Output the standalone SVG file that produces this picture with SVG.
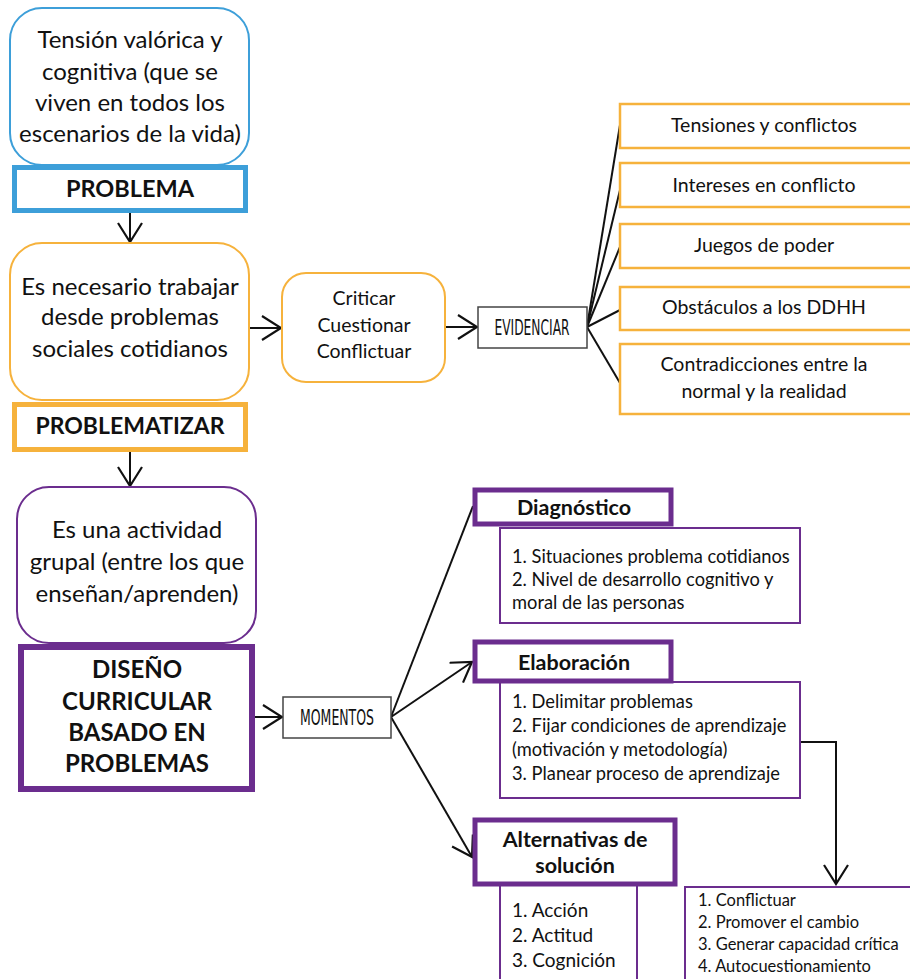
<svg xmlns="http://www.w3.org/2000/svg" width="910" height="979" viewBox="0 0 910 979">
  <style>
    .txt { font-family: "Lato", "Noto Sans", sans-serif; fill: #111; }
    .reg { font-size: 24px; text-anchor: middle; }
    .mid { font-size: 19.5px; text-anchor: middle; }
    .lst { font-size: 18.3px; }
    .alt { font-size: 19px; }
    .sml { font-size: 16.5px; }
    .bold { font-weight: 700; text-anchor: middle; }
    .hdr { font-size: 21.5px; }
    .cond { font-family: "DejaVu Sans Condensed", "DejaVu Sans", sans-serif; font-stretch: condensed; font-size: 20.5px; text-anchor: middle; fill: #111; }
    .blue { stroke: #3d9fd9; fill: #fff; }
    .orange { stroke: #f6b23c; fill: #fff; }
    .purple { stroke: #6b2d8e; fill: #fff; }
    .gray { stroke: #444; fill: #fff; stroke-width: 1.5; }
    .conn line, .conn path { stroke: #111; stroke-width: 2; fill: none; }
  </style>
  <defs>
    <marker id="arrow" viewBox="0 0 22 26" refX="20" refY="13" markerWidth="22" markerHeight="26" markerUnits="userSpaceOnUse" orient="auto">
      <path d="M1,1 L20,13 L1,25" fill="none" stroke="#111" stroke-width="2.2"/>
    </marker>
  </defs>

  <rect width="910" height="979" fill="#fff"/>

  <!-- connectors -->
  <g class="conn" id="connectors">
    <line x1="130" y1="213" x2="130" y2="242" marker-end="url(#arrow)"/>
    <line x1="130" y1="452" x2="130" y2="486" marker-end="url(#arrow)"/>
    <line x1="249" y1="328" x2="281" y2="328" marker-end="url(#arrow)"/>
    <line x1="445" y1="327" x2="477" y2="327" marker-end="url(#arrow)"/>
    <line x1="587" y1="327" x2="620" y2="125"/>
    <line x1="587" y1="327" x2="620" y2="190"/>
    <line x1="587" y1="327" x2="620" y2="247"/>
    <line x1="587" y1="327" x2="620" y2="310"/>
    <line x1="587" y1="327" x2="620" y2="383"/>
    <line x1="255" y1="717" x2="282" y2="717" marker-end="url(#arrow)"/>
    <line x1="391" y1="717" x2="473" y2="506"/>
    <line x1="391" y1="717" x2="472" y2="662" marker-end="url(#arrow)"/>
    <line x1="391" y1="717" x2="472" y2="857" marker-end="url(#arrow)"/>
    <path d="M800,742 H836 V884" marker-end="url(#arrow)"/>
  </g>

  <!-- problema -->
  <g id="tension">
    <rect class="blue" x="10" y="8" width="239" height="157" rx="32" stroke-width="2"/>
    <text class="txt reg" x="130" y="48">Tensión valórica y</text>
    <text class="txt reg" x="130" y="80">cognitiva (que se</text>
    <text class="txt reg" x="130" y="111">viven en todos los</text>
    <text class="txt reg" x="130" y="142">escenarios de la vida)</text>
  </g>
  <g id="problema">
    <rect class="blue" x="14.5" y="167.5" width="231" height="43" stroke-width="5"/>
    <text class="txt bold" x="130" y="197" font-size="23.5">PROBLEMA</text>
  </g>

  <!-- problematizar -->
  <g id="trabajar">
    <rect class="orange" x="10" y="243" width="239" height="157" rx="32" stroke-width="2"/>
    <text class="txt reg" x="130" y="295">Es necesario trabajar</text>
    <text class="txt reg" x="130" y="325">desde problemas</text>
    <text class="txt reg" x="130" y="357">sociales cotidianos</text>
  </g>
  <g id="problematizar">
    <rect class="orange" x="14.5" y="404.5" width="231" height="45" stroke-width="5"/>
    <text class="txt bold" x="130" y="434" font-size="23">PROBLEMATIZAR</text>
  </g>
  <g id="criticar">
    <rect class="orange" x="282" y="273" width="163" height="109" rx="24" stroke-width="2"/>
    <text class="txt mid" x="364" y="305">Criticar</text>
    <text class="txt mid" x="364" y="332">Cuestionar</text>
    <text class="txt mid" x="364" y="358">Conflictuar</text>
  </g>
  <g id="evidenciar">
    <rect class="gray" x="478" y="307" width="109" height="41"/>
    <text class="cond" x="532" y="335" textLength="75" lengthAdjust="spacingAndGlyphs">EVIDENCIAR</text>
  </g>
  <g id="tensiones">
    <rect class="orange" x="620" y="104" width="300" height="44" stroke-width="2.5"/>
    <text class="txt mid" x="764" y="132">Tensiones y conflictos</text>
  </g>
  <g id="intereses">
    <rect class="orange" x="620" y="163" width="300" height="44" stroke-width="2.5"/>
    <text class="txt mid" x="764" y="192">Intereses en conflicto</text>
  </g>
  <g id="juegos">
    <rect class="orange" x="620" y="224" width="300" height="44" stroke-width="2.5"/>
    <text class="txt mid" x="764" y="252">Juegos de poder</text>
  </g>
  <g id="obstaculos">
    <rect class="orange" x="620" y="287" width="300" height="43" stroke-width="2.5"/>
    <text class="txt mid" x="764" y="314">Obstáculos a los DDHH</text>
  </g>
  <g id="contradicciones">
    <rect class="orange" x="620" y="344" width="300" height="70" stroke-width="2.5"/>
    <text class="txt mid" x="764" y="371">Contradicciones entre la</text>
    <text class="txt mid" x="764" y="398">normal y la realidad</text>
  </g>

  <!-- diseño curricular -->
  <g id="grupal">
    <rect class="purple" x="17" y="487" width="239" height="156" rx="32" stroke-width="2"/>
    <text class="txt reg" x="137" y="538">Es una actividad</text>
    <text class="txt reg" x="137" y="570">grupal (entre los que</text>
    <text class="txt reg" x="137" y="602">enseñan/aprenden)</text>
  </g>
  <g id="diseno">
    <rect class="purple" x="21" y="647" width="231" height="142" stroke-width="6"/>
    <text class="txt bold" x="137" y="678" font-size="24">DISEÑO</text>
    <text class="txt bold" x="137" y="710" font-size="24">CURRICULAR</text>
    <text class="txt bold" x="137" y="741" font-size="24">BASADO EN</text>
    <text class="txt bold" x="137" y="772" font-size="24">PROBLEMAS</text>
  </g>
  <g id="momentos">
    <rect class="gray" x="283" y="697" width="108" height="41"/>
    <text class="cond" x="337" y="725" textLength="74" lengthAdjust="spacingAndGlyphs">MOMENTOS</text>
  </g>

  <g id="diagnostico">
    <rect class="purple" x="500" y="528" width="300" height="95" stroke-width="2"/>
    <rect class="purple" x="475" y="490" width="196" height="34" stroke-width="5"/>
    <text class="txt bold hdr" x="574" y="515">Diagnóstico</text>
    <text class="txt lst" x="512" y="563">1. Situaciones problema cotidianos</text>
    <text class="txt lst" x="512" y="586">2. Nivel de desarrollo cognitivo y</text>
    <text class="txt lst" x="512" y="609">moral de las personas</text>
  </g>
  <g id="elaboracion">
    <rect class="purple" x="500" y="682" width="300" height="116" stroke-width="2"/>
    <rect class="purple" x="475" y="642" width="196" height="39" stroke-width="5"/>
    <text class="txt bold hdr" x="574" y="670">Elaboración</text>
    <text class="txt lst" x="512" y="708">1. Delimitar problemas</text>
    <text class="txt lst" x="512" y="732">2. Fijar condiciones de aprendizaje</text>
    <text class="txt lst" x="512" y="756">(motivación y metodología)</text>
    <text class="txt lst" x="512" y="780">3. Planear proceso de aprendizaje</text>
  </g>
  <g id="alternativas">
    <rect class="purple" x="500" y="885" width="137" height="100" stroke-width="2"/>
    <rect class="purple" x="475" y="820" width="200" height="64" stroke-width="5"/>
    <text class="txt bold hdr" x="575" y="847">Alternativas de</text>
    <text class="txt bold hdr" x="575" y="873">solución</text>
    <text class="txt alt" x="512" y="917">1. Acción</text>
    <text class="txt alt" x="512" y="942">2. Actitud</text>
    <text class="txt alt" x="512" y="967">3. Cognición</text>
  </g>
  <g id="cambio">
    <rect class="purple" x="685" y="887" width="240" height="100" stroke-width="2"/>
    <text class="txt sml" x="698" y="906">1. Conflictuar</text>
    <text class="txt sml" x="698" y="928">2. Promover el cambio</text>
    <text class="txt sml" x="698" y="950">3. Generar capacidad crítica</text>
    <text class="txt sml" x="698" y="972">4. Autocuestionamiento</text>
  </g>
</svg>
